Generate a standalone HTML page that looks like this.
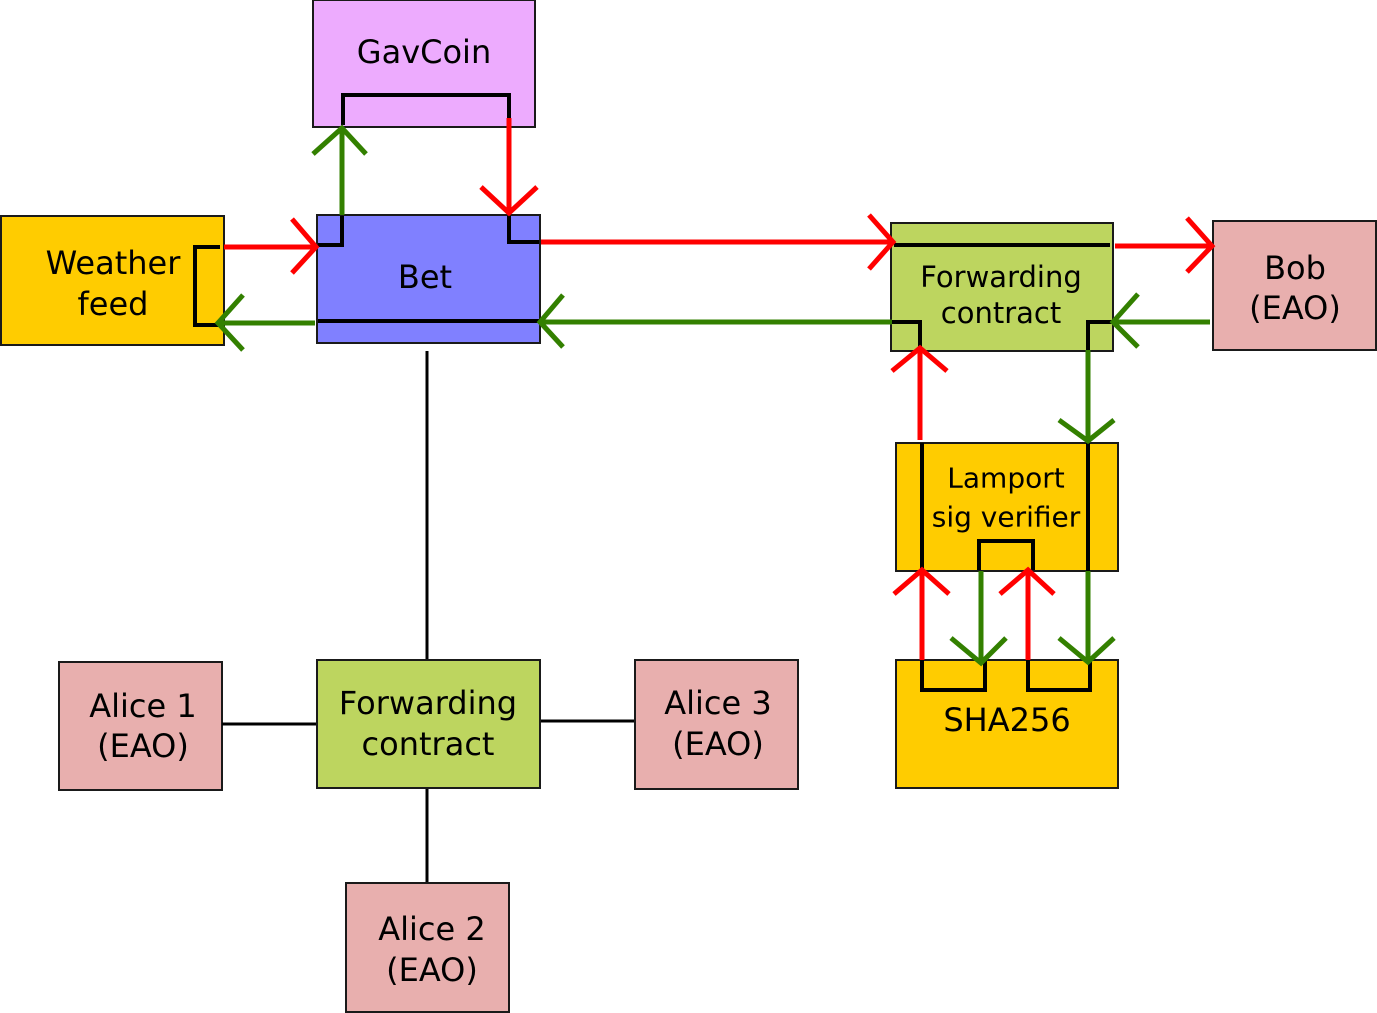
<!DOCTYPE html>
<html><head><meta charset="utf-8"><style>
html,body{margin:0;padding:0;background:#fff;}
svg{display:block;}
text{font-family:"DejaVu Sans","Liberation Sans",sans-serif;fill:#000;text-anchor:middle;dominant-baseline:central;}
</style></head><body>
<svg width="1377" height="1013" viewBox="0 0 1377 1013" xmlns="http://www.w3.org/2000/svg">
<g stroke="#1a1a1a" stroke-width="2">
<rect x="313" y="0" width="222" height="127" fill="#edabfe"/>
<rect x="317" y="215" width="223" height="128" fill="#8080ff"/>
<rect x="1" y="216" width="223" height="129" fill="#ffcc00"/>
<rect x="891" y="223" width="222" height="128" fill="#bdd55f"/>
<rect x="1213" y="221" width="163" height="129" fill="#e8afae"/>
<rect x="896" y="443" width="222" height="128" fill="#ffcc00"/>
<rect x="896" y="660" width="222" height="128" fill="#ffcc00"/>
<rect x="317" y="660" width="223" height="128" fill="#bdd55f"/>
<rect x="59" y="662" width="163" height="128" fill="#e8afae"/>
<rect x="635" y="660" width="163" height="129" fill="#e8afae"/>
<rect x="346" y="883" width="163" height="129" fill="#e8afae"/>
</g>
<g stroke="#000" stroke-width="3" fill="none">
<line x1="427" y1="351" x2="427" y2="659"/>
<line x1="222" y1="724" x2="316" y2="724"/>
<line x1="541" y1="721" x2="634" y2="721"/>
<line x1="427" y1="789" x2="427" y2="882"/>
</g>
<g stroke="#000" stroke-width="4" fill="none">
<polyline points="343,125 343,95 509,95 509,125"/>
<polyline points="318,245 342,245 342,216"/>
<polyline points="509,216 509,242 539,242"/>
<line x1="318" y1="321" x2="539" y2="321"/>
<polyline points="220,247 195,247 195,325 220,325"/>
<line x1="894" y1="245" x2="1110" y2="245"/>
<polyline points="892,322 920,322 920,347"/>
<polyline points="1086,322 1113,322"/>
<line x1="1088" y1="322" x2="1088" y2="350"/>
<line x1="922" y1="443" x2="922" y2="571"/>
<line x1="1088" y1="443" x2="1088" y2="571"/>
<polyline points="979,570 979,541 1033,541 1033,570"/>
<polyline points="922,660 922,690 985,690 985,660"/>
<polyline points="1028,660 1028,690 1090,690 1090,660"/>
</g>
<g stroke="#ff0000" stroke-width="5" fill="none">
<line x1="509" y1="118" x2="509" y2="212"/><polyline points="481,187 509,213 537,187"/>
<line x1="224" y1="247" x2="315" y2="247"/><polyline points="292,219 316,247 292,273"/>
<line x1="541" y1="242" x2="892" y2="242"/><polyline points="869,215 893,242 869,269"/>
<line x1="1115" y1="246" x2="1211" y2="246"/><polyline points="1187,218 1212,246 1187,272"/>
<line x1="920" y1="440" x2="920" y2="349"/><polyline points="892,371 920,348 947,371"/>
<line x1="922" y1="660" x2="922" y2="572"/><polyline points="894,594 922,570 949,594"/>
<line x1="1028" y1="660" x2="1028" y2="572"/><polyline points="1000,594 1028,570 1054,594"/>
</g>
<g stroke="#338000" stroke-width="5" fill="none">
<line x1="342" y1="215" x2="342" y2="130"/><polyline points="313,154 342,128 366,154"/>
<line x1="315" y1="323" x2="219" y2="323"/><polyline points="243,295 218,323 243,350"/>
<line x1="892" y1="322" x2="541" y2="322"/><polyline points="563,295 540,322 563,347"/>
<line x1="1210" y1="322" x2="1114" y2="322"/><polyline points="1138,294 1113,322 1138,347"/>
<line x1="1088" y1="350" x2="1088" y2="440"/><polyline points="1059,420 1088,441 1114,420"/>
<line x1="981" y1="571" x2="981" y2="662"/><polyline points="951,638 981,663 1006,638"/>
<line x1="1088" y1="571" x2="1088" y2="661"/><polyline points="1059,638 1088,662 1114,638"/>
</g>
<text x="424" y="52" font-size="32">GavCoin</text>
<text x="425" y="277" font-size="32">Bet</text>
<text x="113" y="263" font-size="32">Weather</text>
<text x="113" y="304" font-size="32">feed</text>
<text x="1001" y="277" font-size="29">Forwarding</text>
<text x="1001" y="313" font-size="29">contract</text>
<text x="1295" y="268" font-size="32">Bob</text>
<text x="1295" y="308" font-size="32">(EAO)</text>
<text x="1006" y="478" font-size="28">Lamport</text>
<text x="1006" y="517" font-size="28">sig verifier</text>
<text x="1007" y="720" font-size="32">SHA256</text>
<text x="428" y="703" font-size="32">Forwarding</text>
<text x="428" y="744" font-size="32">contract</text>
<text x="143" y="706" font-size="32">Alice 1</text>
<text x="143" y="746" font-size="32">(EAO)</text>
<text x="718" y="703" font-size="32">Alice 3</text>
<text x="718" y="744" font-size="32">(EAO)</text>
<text x="432" y="929" font-size="32">Alice 2</text>
<text x="432" y="970" font-size="32">(EAO)</text>
</svg>
</body></html>
